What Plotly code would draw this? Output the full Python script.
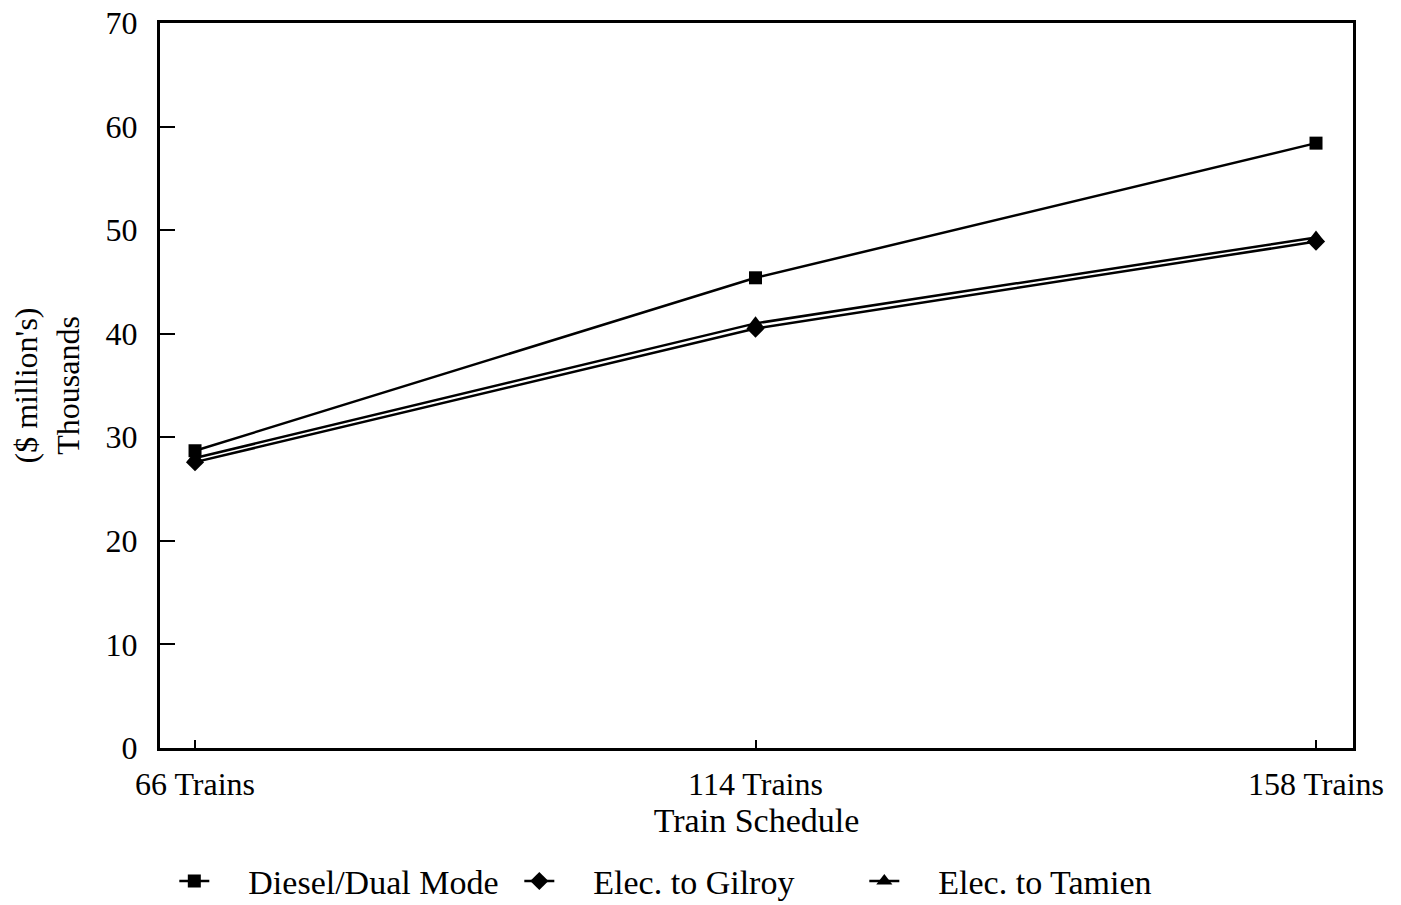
import plotly.graph_objects as go

categories = ["66 Trains", "114 Trains", "158 Trains"]
diesel = [28.7, 45.4, 58.4]
gilroy = [27.6, 40.5, 48.9]
tamien = [28.0, 41.0, 49.3]
y_ticks = [0, 10, 20, 30, 40, 50, 60, 70]

FONT = "Liberation Serif"
NB = "\u00a0"
fig = go.Figure()
series = [
    ("Diesel/Dual Mode", diesel, "square", 13),
    ("Elec. to Gilroy", gilroy, "diamond", 14),
    ("Elec. to Tamien", tamien, "triangle-up", 14),
]
for name, vals, sym, sz in series:
    fig.add_trace(go.Scatter(
        x=list(range(len(categories))), y=vals, name=NB * 4 + name, mode="lines+markers",
        line=dict(color="black", width=2.5),
        marker=dict(symbol=sym, size=sz, color="black"),
    ))

fig.update_layout(
    width=1393, height=897,
    margin=dict(l=152, r=48, t=15, b=157, autoexpand=False),
    paper_bgcolor="white", plot_bgcolor="white",
    font=dict(family=FONT, size=32, color="black"),
    showlegend=True,
    legend=dict(orientation="h", x=0.012, xanchor="left", y=-0.184, yanchor="middle",
                font=dict(size=34), entrywidth=300, itemwidth=30),
)
fig.update_xaxes(
    range=[-0.0625, 2.066], tickvals=list(range(len(categories))), ticktext=categories,
    showline=True, linecolor="black", linewidth=3, mirror=True,
    ticks="inside", ticklen=8, tickcolor="black", tickwidth=1.5,
    showgrid=False, zeroline=False, automargin=False, ticklabelstandoff=6,
    ticklabeloverflow="allow",
    title=dict(text="Train Schedule", font=dict(size=34), standoff=2),
)
fig.update_yaxes(
    range=[0, 70], tickvals=y_ticks,
    showline=True, linecolor="black", linewidth=3, mirror=True,
    ticks="inside", ticklen=15, tickcolor="black", tickwidth=1.5,
    showgrid=False, zeroline=False, automargin=False, ticklabelstandoff=13,
    ticklabeloverflow="allow",
    title=dict(text="($ million's)<br>Thousands", font=dict(size=32), standoff=33),
)
fig.write_html("out.html")
